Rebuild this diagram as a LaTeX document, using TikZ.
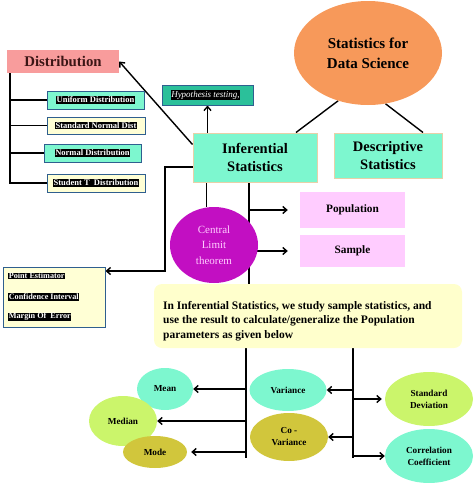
\documentclass[tikz,border=0pt]{standalone}
\usepackage{fontspec}
\setmainfont{Liberation Serif}
\usetikzlibrary{arrows.meta,shapes.geometric,calc}
\pgfdeclarelayer{background}
\pgfsetlayers{background,main}
\definecolor{salmon}{HTML}{F89C9C}
\definecolor{aqua}{HTML}{7DF7CF}
\definecolor{lyel}{HTML}{FFFFD5}
\definecolor{teal2}{HTML}{2BC09A}
\definecolor{orng}{HTML}{F7995A}
\definecolor{pinkb}{HTML}{FFCCFF}
\definecolor{magen}{HTML}{C20FC2}
\definecolor{ybox}{HTML}{FFFFCC}
\definecolor{lime}{HTML}{CBF56B}
\definecolor{olive2}{HTML}{D1C63C}
\definecolor{bordb}{HTML}{2F5F8F}
\definecolor{tan2}{HTML}{E8D0A8}
\definecolor{maroon2}{HTML}{3B1515}
\newcommand{\blackhl}[1]{{\setlength{\fboxsep}{0.6pt}\colorbox{black}{\textcolor{white}{#1}}}}
\begin{document}
\begin{tikzpicture}[x=1pt,y=-1pt,
  box/.style={rectangle, inner sep=0pt, align=center},
  dbox/.style={box, draw=bordb, line width=1pt, font=\fontsize{8.5}{10}\selectfont\bfseries},
  ell/.style={ellipse, inner sep=0pt, align=center},
  sell/.style={ell, font=\fontsize{9.2}{12}\selectfont\bfseries},
  ln/.style={line width=1.6pt, black},
  arr/.style={line width=1.4pt, black, -{Straight Barb[length=4pt,width=7pt]}}]
\useasboundingbox (0,0) rectangle (474,483);
% Distribution group
\node[box, fill=salmon, text=maroon2, minimum width=112pt, minimum height=23pt, font=\fontsize{14.8}{16}\selectfont\bfseries] (dist) at (63,61.5) {Distribution};
\node[dbox, fill=aqua, minimum width=97pt, minimum height=18pt] (uni) at (95.5,100) {\blackhl{Uniform Distribution}};
\node[dbox, fill=lyel, minimum width=98pt, minimum height=17pt] (snd) at (96,125.5) {\blackhl{Standard Normal Dist}};
\node[dbox, fill=aqua, minimum width=97pt, minimum height=18pt] (nd) at (92.5,153) {\blackhl{Normal Distribution}};
\node[dbox, fill=lyel, minimum width=98pt, minimum height=18pt] (std) at (96,183) {\blackhl{Student T\ \ Distribution}};
\coordinate (dtop) at ($(dist.south west)+(3,0)$);
\begin{pgfonlayer}{background}
\draw[ln] (dtop) |- (std.west);
\draw[ln] (dtop) |- (uni.west);
\draw[ln] (dtop) |- (snd.west);
\draw[ln] (dtop) |- (nd.west);
\end{pgfonlayer}
% top
\node[ell, fill=orng, minimum width=148pt, minimum height=104pt, font=\fontsize{15}{20}\selectfont\bfseries] (sds) at (368,53) {Statistics for\\Data Science};
\node[box, fill=aqua, draw=tan2, line width=1pt, minimum width=124pt, minimum height=49pt, font=\fontsize{14.5}{18}\selectfont\bfseries] (inf) at (255,157.5) {Inferential\\Statistics};
\node[box, fill=aqua, draw=tan2, line width=1pt, minimum width=108pt, minimum height=45pt, font=\fontsize{14.5}{18}\selectfont\bfseries] (desc) at (388,155.5) {Descriptive\\Statistics};
\node[box, fill=teal2, draw=bordb, line width=1pt, minimum width=91pt, minimum height=20pt, font=\fontsize{9}{10}\selectfont\itshape] (hyp) at (207.5,95) {\blackhl{Hypothesis testing,}\hspace{4pt}};
\begin{pgfonlayer}{background}
\draw[line width=1.4pt] (sds.238) -- ($(inf.north)+(41,0)$);
\draw[line width=1.4pt] (sds.289) -- ($(desc.north)+(35,0)$);
\draw[arr] ($(inf.north west)+(0,12)$) -- (dist.east);
\draw[arr] (inf.north -| hyp.south) -- (hyp.south);
\end{pgfonlayer}
% point estimator
\node[box, fill=lyel, draw=bordb, line width=1pt, minimum width=102pt, minimum height=60pt] (pe) at (54,297) {};
\node[anchor=west, inner sep=0pt, font=\fontsize{8.2}{9}\selectfont\bfseries] (pe1) at (8,276) {\blackhl{Point Estimator}};
\node[anchor=west, inner sep=0pt, font=\fontsize{8.2}{9}\selectfont\bfseries] (pe2) at (8,297) {\blackhl{Confidence Interval}};
\node[anchor=west, inner sep=0pt, font=\fontsize{8.2}{9}\selectfont\bfseries] (pe3) at (8,317) {\blackhl{Margin Of\ \ Error}};
\coordinate (lc) at (165,271);
\begin{pgfonlayer}{background}
\draw[arr] ($(inf.west)+(0,9.5)$) -| (lc) -- (pe.east |- lc);
\end{pgfonlayer}
% CLT, population, sample
\node[ell, fill=magen, minimum width=88pt, minimum height=76pt, text=pinkb, font=\fontsize{11}{15.5}\selectfont] (clt) at (214,245) {Central\\Limit\\theorem};
\node[box, fill=pinkb, minimum width=105pt, minimum height=36pt, font=\fontsize{11.3}{12}\selectfont\bfseries] (pop) at (352.5,210) {Population};
\node[box, fill=pinkb, minimum width=105pt, minimum height=32pt, font=\fontsize{11.3}{12}\selectfont\bfseries] (samp) at (352.5,251) {Sample};
\node[box, fill=ybox, rounded corners=8pt, minimum width=308pt, minimum height=64pt] (yb) at (308,316) {};
\node[anchor=west, align=left, inner sep=0pt, font=\fontsize{11.5}{14.5}\selectfont\bfseries] (ybt) at (163,321) {In Inferential Statistics, we study sample statistics, and\\use the result to calculate/generalize the Population\\parameters as given below};
\coordinate (v1) at ($(inf.south west)+(14,0)$);
\coordinate (v2) at ($(inf.south)+(-6,0)$);
\begin{pgfonlayer}{background}
\draw[ln] (v1) -- (v1 |- clt.north);
\draw[ln] (v2) -- (v2 |- yb.north);
\draw[arr, shorten >=12pt] (v2 |- pop.west) -- (pop.west);
\draw[arr, shorten >=12pt] (v2 |- samp.west) -- (samp.west);
\end{pgfonlayer}
% bottom ellipses
\node[sell, fill=aqua, minimum width=56pt, minimum height=42pt] (mean) at (165,389) {Mean};
\node[sell, fill=lime, minimum width=68pt, minimum height=50pt] (median) at (123,421) {Median};
\node[sell, fill=olive2, minimum width=64pt, minimum height=32pt] (mode) at (155,452) {Mode};
\node[sell, fill=aqua, minimum width=77pt, minimum height=42pt] (var) at (288,390) {Variance};
\node[sell, fill=olive2, minimum width=78pt, minimum height=48pt] (cov) at (289,437) {Co -\\Variance};
\node[sell, fill=lime, minimum width=88pt, minimum height=54pt] (sd) at (429,399) {Standard\\Deviation};
\node[sell, fill=aqua, minimum width=88pt, minimum height=54pt] (cc) at (429,456) {Correlation\\Coefficient};
\coordinate (bt1) at ($(yb.south west)+(92,0)$);
\coordinate (bt2) at ($(yb.south west)+(199,0)$);
\begin{pgfonlayer}{background}
\draw[ln] (bt1) -- ++(0,110);
\draw[ln] (bt2) -- ++(0,110);
\draw[arr] (bt1 |- mean.east) -- (mean.east);
\draw[arr] (bt1 |- median.east) -- (median.east);
\draw[arr, shorten >=4pt] (bt1 |- mode.east) -- (mode.east);
\draw[arr] (bt2 |- var.east) -- (var.east);
\draw[arr] (bt2 |- cov.east) -- (cov.east);
\draw[arr, shorten >=3pt] (bt2 |- sd.west) -- (sd.west);
\draw[arr] (bt2 |- cc.west) -- (cc.west);
\end{pgfonlayer}
\end{tikzpicture}
\end{document}
